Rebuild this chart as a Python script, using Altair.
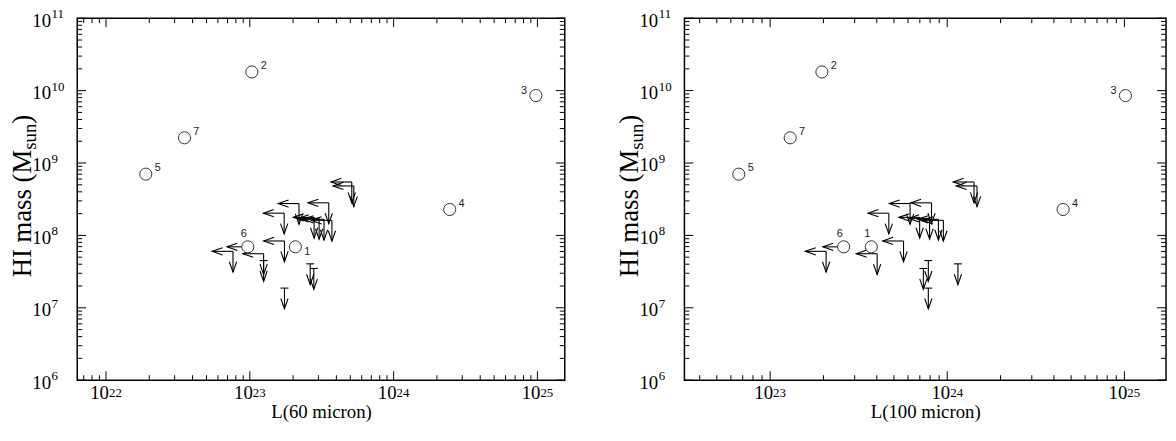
import altair as alt
import pandas as pd
import numpy as np

# ---------------- data (log10 values) ----------------
# detected galaxies (open circles)
det_id = ["1", "2", "3", "4", "5", "6", "7"]
det_l60 = [23.317, 23.014, 24.989, 24.390, 22.277, 22.986, 22.546]
det_l100 = [23.571, 23.292, 25.006, 24.654, 22.823, 23.415, 23.113]
det_mhi = [7.842, 10.258, 9.932, 8.358, 8.846, 7.842, 9.348]
# label placement next to each circle, per panel
det_place60 = ["br", "ur", "ul", "ur", "ur", "up", "ur"]
det_place100 = ["up", "ur", "ul", "ur", "ur", "up", "ur"]

# upper limits: kind "both" = limit in L and HI, "mass" = limit in HI only,
# "lum" = limit in L only
lim_kind = ["both", "both", "both", "both", "both", "both", "both", "both",
            "both", "both", "both", "both", "lum",
            "mass", "mass", "mass", "mass"]
lim_l60 = [23.709, 23.723, 23.549, 23.342, 23.239, 23.447, 23.482, 23.516,
           23.571, 23.241, 22.883, 23.096, 22.986,
           23.096, 23.420, 23.445, 23.241]
lim_l100 = [24.151, 24.168, 23.911, 23.790, 23.670, 23.844, 23.900, 23.950,
            23.978, 23.753, 23.316, 23.604, 23.415,
            23.893, 24.060, 23.865, 23.893]
lim_mhi = [8.738, 8.683, 8.450, 8.440, 8.307, 8.249, 8.235, 8.222,
           8.208, 7.923, 7.780, 7.747, 7.842,
           7.652, 7.607, 7.543, 7.272]

y_major = [1e6, 1e7, 1e8, 1e9, 1e10, 1e11]
x_major_60 = [1e22, 1e23, 1e24, 1e25]
x_major_100 = [1e23, 1e24, 1e25]

dom60 = [10 ** 21.80, 10 ** 25.19]
dom100 = [10 ** 22.516, 10 ** 25.235]
ydom = [1e6, 1e11]

ytitle_main = "HI mass (M"
ytitle_sub = "sun"
ytitle_end = ")"

det = pd.DataFrame({
    "id": det_id,
    "l60": [10 ** v for v in det_l60],
    "l100": [10 ** v for v in det_l100],
    "m": [10 ** v for v in det_mhi],
    "p60": det_place60,
    "p100": det_place100,
})
lim = pd.DataFrame({
    "kind": lim_kind,
    "l60": [10 ** v for v in lim_l60],
    "l100": [10 ** v for v in lim_l100],
    "m": [10 ** v for v in lim_mhi],
})


def minor_ticks(lo, hi):
    out = []
    for k in range(int(np.floor(np.log10(lo))), int(np.ceil(np.log10(hi))) + 1):
        for m in range(2, 10):
            v = m * 10.0 ** k
            if lo < v < hi:
                out.append(v)
    return out


def major_ticks(lo, hi):
    out = []
    for k in range(int(np.floor(np.log10(lo))), int(np.ceil(np.log10(hi))) + 1):
        v = 10.0 ** k
        if lo <= v <= hi:
            out.append(v)
    return out


SERIF = "Liberation Serif"
ARR = 21          # arrow length in px
HEAD = 110
LEFT_HEAD = "M2,-0.7L0,0L2,0.7"
DOWN_HEAD = "M-0.7,-2L0,0L0.7,-2"
TF = 27           # y-title font size
SF = 19           # subscript font size
LF = 19           # tick label font size
EF = 13           # exponent font size


def panel(field, dom, W, H, xvals, xtitle):
    xs = alt.Scale(type="log", domain=dom, nice=False, zero=False)
    ys = alt.Scale(type="log", domain=ydom, nice=False, zero=False)
    xaxis = alt.Axis(values=xvals, labelExpr="'10'", grid=False,
                     ticks=False, domain=False, labelFont=SERIF, labelFontSize=LF,
                     labelColor="black", labelPadding=4, labelOffset=-7,
                     title=xtitle, titleFont=SERIF, titleFontSize=19,
                     titleFontWeight="normal", titleColor="black", titlePadding=0,
                     labelFlush=False)
    yaxis = alt.Axis(values=y_major, labelExpr="'10'", grid=False,
                     ticks=False, domain=False, labelFont=SERIF, labelFontSize=LF,
                     labelColor="black", labelPadding=27, labelOffset=2,
                     title=None, labelFlush=False)
    X = alt.X(f"{field}:Q", scale=xs, axis=xaxis)
    Y = alt.Y("m:Q", scale=ys, axis=yaxis)

    frame = alt.Chart(pd.DataFrame({"f": [0]})).mark_rect(
        fillOpacity=0, stroke="black", strokeWidth=1.5).encode(
        x=alt.value(0), x2=alt.value(W), y=alt.value(0), y2=alt.value(H))

    # inward ticks on all four sides
    ymaj = pd.DataFrame({"m": y_major})
    ymin = pd.DataFrame({"m": minor_ticks(*ydom)})
    xmaj = pd.DataFrame({field: major_ticks(*dom)})
    xmin = pd.DataFrame({field: minor_ticks(*dom)})
    tk = []
    for df, ln in ((ymaj, 9), (ymin, 5)):
        tk.append(alt.Chart(df).mark_rule(color="black", strokeWidth=1).encode(
            y=Y, x=alt.value(0), x2=alt.value(ln)))
        tk.append(alt.Chart(df).mark_rule(color="black", strokeWidth=1).encode(
            y=Y, x=alt.value(W), x2=alt.value(W - ln)))
    for df, ln in ((xmaj, 9), (xmin, 5)):
        tk.append(alt.Chart(df).mark_rule(color="black", strokeWidth=1).encode(
            x=X, y=alt.value(H), y2=alt.value(H - ln)))
        tk.append(alt.Chart(df).mark_rule(color="black", strokeWidth=1).encode(
            x=X, y=alt.value(0), y2=alt.value(ln)))

    # exponents of the tick labels
    xexp = pd.DataFrame({field: xvals,
                         "e": [str(int(round(np.log10(v)))) for v in xvals]})
    yexp = pd.DataFrame({"m": y_major,
                         "e": [str(int(round(np.log10(v)))) for v in y_major]})
    exps = [
        alt.Chart(xexp).mark_text(font=SERIF, fontSize=EF, color="black",
                                  align="left", baseline="middle", dx=3)
        .encode(x=X, y=alt.value(H + 13), text="e:N"),
        alt.Chart(yexp).mark_text(font=SERIF, fontSize=EF, color="black",
                                  align="left", baseline="middle", dy=-4)
        .encode(x=alt.value(-26), y=Y, text="e:N"),
    ]

    # y title built from text pieces (main, subscript, closing paren)
    l1 = TF * 4.777
    l2 = SF * 1.389
    y0 = H - 104
    bx = -47
    yt = pd.DataFrame({"t": [ytitle_main]})
    ys_ = pd.DataFrame({"t": [ytitle_sub]})
    ye = pd.DataFrame({"t": [ytitle_end]})
    titles = [
        alt.Chart(yt).mark_text(font=SERIF, fontSize=TF, color="black", angle=270,
                                align="left", baseline="alphabetic")
        .encode(x=alt.value(bx), y=alt.value(y0), text="t:N"),
        alt.Chart(ys_).mark_text(font=SERIF, fontSize=SF, color="black", angle=270,
                                 align="left", baseline="alphabetic")
        .encode(x=alt.value(bx + 5), y=alt.value(y0 - l1), text="t:N"),
        alt.Chart(ye).mark_text(font=SERIF, fontSize=TF, color="black", angle=270,
                                align="left", baseline="alphabetic")
        .encode(x=alt.value(bx), y=alt.value(y0 - l1 - l2), text="t:N"),
    ]

    base = alt.Chart(lim)
    hz = base.transform_filter("datum.kind != 'mass'")
    vt = base.transform_filter("datum.kind != 'lum'")
    ms = base.transform_filter("datum.kind == 'mass'")
    layers = [frame] + tk + exps + titles + [
        hz.mark_rule(color="black", strokeWidth=1.1, x2Offset=-ARR).encode(
            x=X, x2=f"{field}:Q", y=Y),
        hz.mark_point(shape=LEFT_HEAD, size=HEAD, filled=False, color="black",
                      strokeWidth=1.1, opacity=1, xOffset=-ARR).encode(x=X, y=Y),
        vt.mark_rule(color="black", strokeWidth=1.1, y2Offset=ARR).encode(
            x=X, y=Y, y2="m:Q"),
        vt.mark_point(shape=DOWN_HEAD, size=HEAD, filled=False, color="black",
                      strokeWidth=1.1, opacity=1, yOffset=ARR).encode(x=X, y=Y),
        ms.mark_rule(color="black", strokeWidth=1.1, xOffset=-4, x2Offset=4).encode(
            x=X, x2=f"{field}:Q", y=Y),
        alt.Chart(det).mark_point(shape="circle", size=150, fill="white",
                                  stroke="#333", strokeWidth=1, opacity=1,
                                  fillOpacity=1).encode(x=X, y=Y),
    ]
    pcol = "p60" if field == "l60" else "p100"
    offs = {"ur": (12, -6), "ul": (-12, -5), "up": (-4, -13), "br": (12, 5)}
    for key, (dx, dy) in offs.items():
        layers.append(
            alt.Chart(det).transform_filter(f"datum.{pcol} == '{key}'")
            .mark_text(font="Liberation Sans", fontSize=11, color="#222",
                       dx=dx, dy=dy, align="center", baseline="middle")
            .encode(x=X, y=Y, text="id:N"))
    return alt.layer(*layers).properties(width=W, height=H)


H = 366
left = panel("l60", dom60, 493, H, x_major_60, "L(60 micron)")
right = panel("l100", dom100, 487, H, x_major_100, "L(100 micron)")

chart = alt.hconcat(left, right, spacing=49).properties(
    padding={"left": 0, "top": -3, "right": 0, "bottom": 2}
).configure_view(stroke="transparent")

chart.save("out.html", embed_options={"renderer": "svg", "actions": False})
